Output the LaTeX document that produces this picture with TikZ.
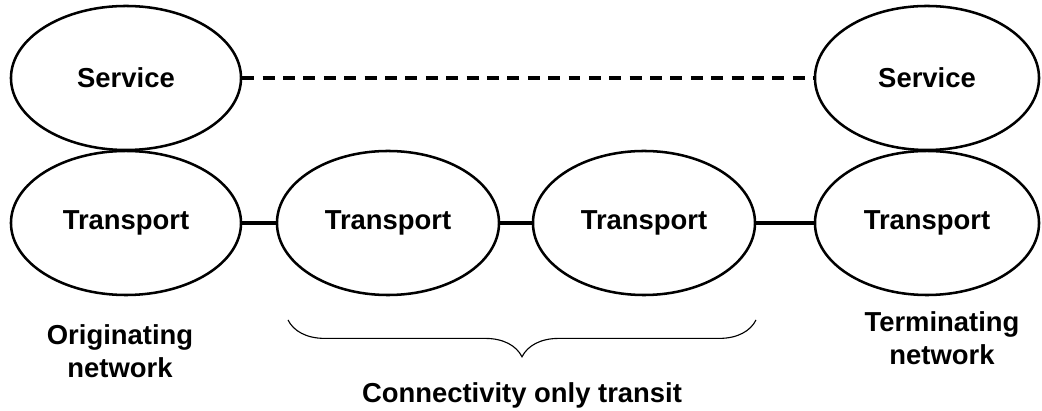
\documentclass[tikz,border=0pt]{standalone}
\usepackage{fontspec}
\setmainfont{Liberation Sans}
\usepackage{tikz}
\usetikzlibrary{shapes.geometric, positioning, decorations.pathreplacing}
\tikzset{
    netellipse/.style={ellipse, draw, line width=1.8pt, minimum width=5.75cm, minimum height=3.6cm, font=\fontsize{19.5}{23}\selectfont\bfseries},
    link/.style={draw, line width=2.7pt},
    peerlink/.style={draw, line width=2.6pt, dash pattern=on 8.5pt off 6pt},
    caption/.style={align=center, font=\fontsize{19.5}{23.5}\selectfont\bfseries}
}
\begin{document}
\begin{tikzpicture}[x=0.025cm, y=-0.025cm]
    \useasboundingbox (0,0) rectangle (1042,411);

    % Service layer
    \node[netellipse] (svcL) at (126,78) {Service};
    \node[netellipse, minimum width=5.6cm] (svcR) at (927,78) {Service};

    % Transport layer
    \node[netellipse] (trO) at (126,223) {Transport};
    \node[netellipse, minimum width=5.55cm] (trA) at (388,223) {Transport};
    \node[netellipse, minimum width=5.55cm] (trB) at (644,223) {Transport};
    \node[netellipse, minimum width=5.6cm] (trT) at (927,223) {Transport};

    % Links
    \draw[peerlink] (svcL) -- (svcR);
    \draw[link] (trO) -- (trA);
    \draw[link] (trA) -- (trB);
    \draw[link] (trB) -- (trT);

    % Labels
    \coordinate (braceL) at (288,320);
    \coordinate (braceR) at (756,320);
    \draw[line width=0.8pt, decorate, decoration={brace, mirror, amplitude=0.92cm}] (braceL) -- (braceR);
    \node[caption] (orig) at (120,351) {Originating\\network};
    \node[caption] (term) at (942,338) {Terminating\\network};
    \node[caption] (transit) at (522,395) {Connectivity only transit};
\end{tikzpicture}
\end{document}
